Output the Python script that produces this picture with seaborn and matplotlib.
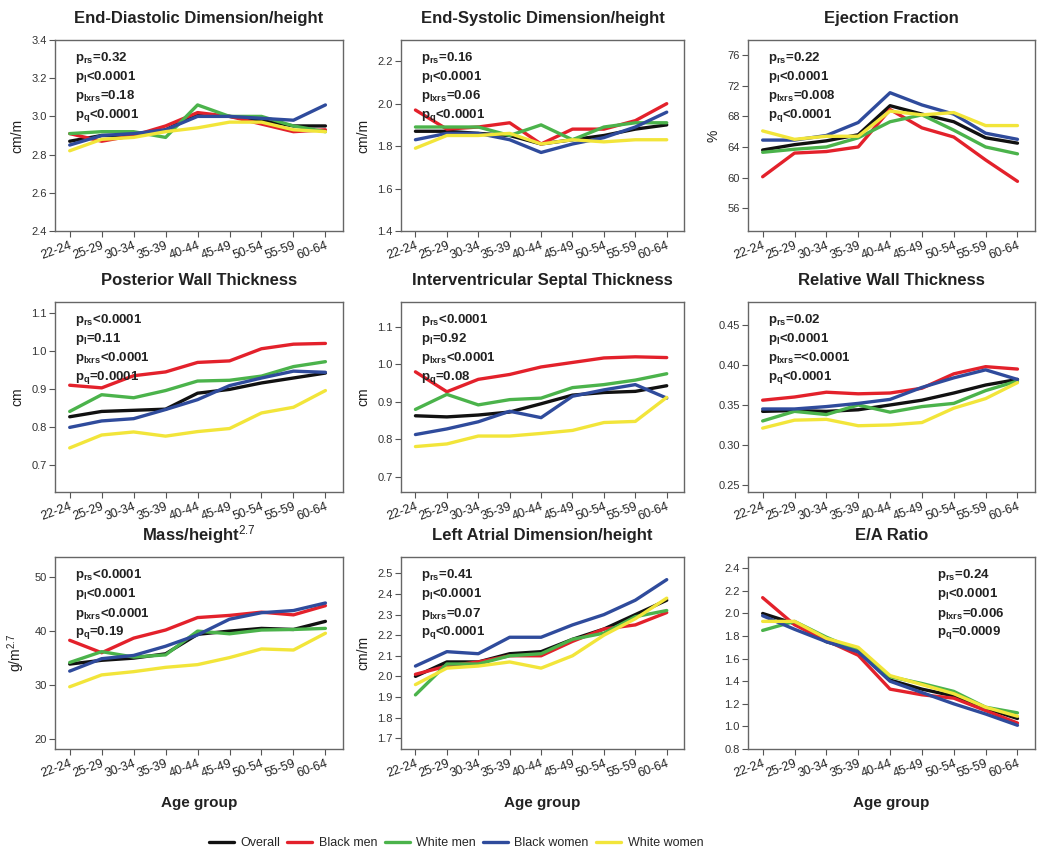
import numpy as np
import pandas as pd
import matplotlib
matplotlib.use("Agg")
import matplotlib.pyplot as plt
import seaborn as sns
from matplotlib.lines import Line2D

# Age categories and groups
age_groups = ["22-24", "25-29", "30-34", "35-39", "40-44", "45-49", "50-54", "55-59", "60-64"]
groups = ["Overall", "Black men", "White men", "Black women", "White women"]
palette = {
    "Overall": "#111111",
    "Black men": "#e3212b",
    "White men": "#4bb34b",
    "Black women": "#2f4b9c",
    "White women": "#f2e53a",
}

# End-diastolic dimension / height (cm/m)
edd = {
    "Overall":     [2.87, 2.90, 2.90, 2.93, 3.01, 3.00, 2.98, 2.95, 2.95],
    "Black men":   [2.91, 2.87, 2.90, 2.95, 3.02, 3.00, 2.96, 2.92, 2.93],
    "White men":   [2.91, 2.92, 2.92, 2.89, 3.06, 3.00, 3.00, 2.95, 2.92],
    "Black women": [2.85, 2.90, 2.91, 2.93, 3.00, 3.00, 2.99, 2.98, 3.06],
    "White women": [2.82, 2.88, 2.89, 2.92, 2.94, 2.97, 2.97, 2.93, 2.92],
}
# End-systolic dimension / height (cm/m)
esd = {
    "Overall":     [1.87, 1.87, 1.86, 1.85, 1.81, 1.83, 1.85, 1.88, 1.90],
    "Black men":   [1.97, 1.88, 1.89, 1.91, 1.81, 1.88, 1.88, 1.92, 2.00],
    "White men":   [1.89, 1.89, 1.89, 1.85, 1.90, 1.83, 1.89, 1.91, 1.91],
    "Black women": [1.83, 1.86, 1.86, 1.83, 1.77, 1.81, 1.84, 1.89, 1.96],
    "White women": [1.79, 1.85, 1.85, 1.86, 1.81, 1.83, 1.82, 1.83, 1.83],
}
# Ejection fraction (%)
ef = {
    "Overall":     [63.6, 64.3, 64.8, 65.6, 69.4, 68.3, 67.3, 65.2, 64.5],
    "Black men":   [60.1, 63.2, 63.4, 64.0, 68.9, 66.5, 65.3, 62.3, 59.5],
    "White men":   [63.3, 63.7, 64.0, 65.2, 67.3, 68.2, 66.2, 64.0, 63.1],
    "Black women": [64.9, 64.9, 65.5, 67.2, 71.1, 69.5, 68.3, 65.8, 65.0],
    "White women": [66.1, 65.0, 65.4, 65.4, 68.7, 68.2, 68.5, 66.8, 66.8],
}
# Posterior wall thickness (cm)
pwt = {
    "Overall":     [0.828, 0.842, 0.845, 0.848, 0.890, 0.900, 0.917, 0.930, 0.943],
    "Black men":   [0.911, 0.904, 0.936, 0.946, 0.971, 0.975, 1.007, 1.019, 1.021],
    "White men":   [0.842, 0.886, 0.878, 0.897, 0.922, 0.924, 0.935, 0.960, 0.973],
    "Black women": [0.800, 0.817, 0.823, 0.847, 0.873, 0.910, 0.930, 0.948, 0.945],
    "White women": [0.746, 0.780, 0.788, 0.777, 0.789, 0.797, 0.838, 0.853, 0.897],
}
# Interventricular septal thickness (cm)
ivs = {
    "Overall":     [0.863, 0.860, 0.865, 0.873, 0.895, 0.918, 0.925, 0.928, 0.943],
    "Black men":   [0.980, 0.927, 0.960, 0.973, 0.993, 1.005, 1.017, 1.020, 1.018],
    "White men":   [0.880, 0.920, 0.892, 0.906, 0.910, 0.938, 0.946, 0.958, 0.975],
    "Black women": [0.813, 0.828, 0.847, 0.875, 0.858, 0.915, 0.932, 0.946, 0.910],
    "White women": [0.781, 0.788, 0.809, 0.809, 0.816, 0.824, 0.845, 0.848, 0.912],
}
# Relative wall thickness
rwt = {
    "Overall":     [0.342, 0.343, 0.342, 0.344, 0.350, 0.356, 0.365, 0.375, 0.382],
    "Black men":   [0.356, 0.360, 0.366, 0.364, 0.365, 0.371, 0.389, 0.398, 0.395],
    "White men":   [0.330, 0.342, 0.338, 0.350, 0.341, 0.348, 0.352, 0.368, 0.380],
    "Black women": [0.345, 0.345, 0.348, 0.352, 0.357, 0.372, 0.384, 0.394, 0.382],
    "White women": [0.321, 0.331, 0.332, 0.324, 0.325, 0.328, 0.346, 0.358, 0.378],
}
# LV mass / height^2.7 (g/m^2.7)
mass = {
    "Overall":     [33.9, 34.6, 35.0, 35.8, 39.4, 40.0, 40.5, 40.3, 41.8],
    "Black men":   [38.3, 36.0, 38.7, 40.2, 42.5, 42.9, 43.5, 43.0, 44.7],
    "White men":   [34.2, 36.2, 35.2, 35.6, 40.0, 39.5, 40.2, 40.3, 40.5],
    "Black women": [32.6, 34.9, 35.5, 37.2, 39.3, 42.2, 43.4, 43.8, 45.2],
    "White women": [29.7, 31.9, 32.5, 33.3, 33.8, 35.1, 36.7, 36.5, 39.6],
}
# Left atrial dimension / height (cm/m)
lad = {
    "Overall":     [2.00, 2.07, 2.07, 2.11, 2.12, 2.18, 2.23, 2.30, 2.37],
    "Black men":   [2.01, 2.05, 2.07, 2.10, 2.10, 2.17, 2.23, 2.25, 2.31],
    "White men":   [1.91, 2.06, 2.06, 2.10, 2.11, 2.18, 2.21, 2.29, 2.32],
    "Black women": [2.05, 2.12, 2.11, 2.19, 2.19, 2.25, 2.30, 2.37, 2.47],
    "White women": [1.96, 2.04, 2.05, 2.07, 2.04, 2.10, 2.20, 2.28, 2.38],
}
# E/A ratio
ea = {
    "Overall":     [2.00, 1.91, 1.75, 1.67, 1.41, 1.33, 1.27, 1.16, 1.07],
    "Black men":   [2.14, 1.90, 1.76, 1.63, 1.33, 1.28, 1.25, 1.14, 1.03],
    "White men":   [1.85, 1.93, 1.79, 1.67, 1.44, 1.38, 1.31, 1.17, 1.12],
    "Black women": [1.98, 1.86, 1.75, 1.66, 1.40, 1.30, 1.20, 1.11, 1.01],
    "White women": [1.93, 1.93, 1.78, 1.70, 1.45, 1.37, 1.29, 1.17, 1.09],
}

p_edd = [("rs", "=0.32"), ("l", "<0.0001"), ("lxrs", "=0.18"), ("q", "<0.0001")]
p_esd = [("rs", "=0.16"), ("l", "<0.0001"), ("lxrs", "=0.06"), ("q", "<0.0001")]
p_ef = [("rs", "=0.22"), ("l", "<0.0001"), ("lxrs", "=0.008"), ("q", "<0.0001")]
p_pwt = [("rs", "<0.0001"), ("l", "=0.11"), ("lxrs", "<0.0001"), ("q", "=0.0001")]
p_ivs = [("rs", "<0.0001"), ("l", "=0.92"), ("lxrs", "<0.0001"), ("q", "=0.08")]
p_rwt = [("rs", "=0.02"), ("l", "<0.0001"), ("lxrs", "=<0.0001"), ("q", "<0.0001")]
p_mass = [("rs", "<0.0001"), ("l", "<0.0001"), ("lxrs", "<0.0001"), ("q", "=0.19")]
p_lad = [("rs", "=0.41"), ("l", "<0.0001"), ("lxrs", "=0.07"), ("q", "<0.0001")]
p_ea = [("rs", "=0.24"), ("l", "<0.0001"), ("lxrs", "=0.006"), ("q", "=0.0009")]

panels = [
    ("End-Diastolic Dimension/height", "cm/m", edd, (2.4, 3.4), np.arange(2.4, 3.41, 0.2), "{:.1f}", p_edd, 0.07),
    ("End-Systolic Dimension/height", "cm/m", esd, (1.4, 2.3), np.arange(1.4, 2.21, 0.2), "{:.1f}", p_esd, 0.07),
    ("Ejection Fraction", "%", ef, (53, 78), np.arange(56, 77, 4), "{:.0f}", p_ef, 0.07),
    ("Posterior Wall Thickness", "cm", pwt, (0.63, 1.13), np.arange(0.7, 1.11, 0.1), "{:.1f}", p_pwt, 0.07),
    ("Interventricular Septal Thickness", "cm", ivs, (0.66, 1.166), np.arange(0.7, 1.11, 0.1), "{:.1f}", p_ivs, 0.07),
    ("Relative Wall Thickness", "", rwt, (0.241, 0.479), np.arange(0.25, 0.451, 0.05), "{:.2f}", p_rwt, 0.07),
    ("Mass/height$^{2.7}$", "g/m$^{2.7}$", mass, (18.2, 53.7), np.arange(20, 51, 10), "{:.0f}", p_mass, 0.07),
    ("Left Atrial Dimension/height", "cm/m", lad, (1.647, 2.58), np.arange(1.7, 2.51, 0.1), "{:.1f}", p_lad, 0.07),
    ("E/A Ratio", "", ea, (0.8, 2.5), np.arange(0.8, 2.41, 0.2), "{:.1f}", p_ea, 0.66),
]

sns.set_theme(style="white")
plt.rcParams["font.family"] = ["Liberation Sans", "DejaVu Sans"]
plt.rcParams["mathtext.fontset"] = "custom"
plt.rcParams["mathtext.rm"] = "Liberation Sans"
plt.rcParams["mathtext.bf"] = "Liberation Sans:bold"
plt.rcParams["mathtext.it"] = "Liberation Sans:italic"

fig = plt.figure(figsize=(10.5, 8.66), dpi=100)
W, H = 1050, 866
col_left = [55, 401, 748]
col_width = [288, 283, 287]
row_top = [40, 302, 557]
row_height = [191, 190, 192]

x_pos = np.arange(len(age_groups))

for i, (title, ylab, data, ylim, yticks, yfmt, ptext, tx) in enumerate(panels):
    r, c = divmod(i, 3)
    ax = fig.add_axes([col_left[c] / W, 1 - (row_top[r] + row_height[r]) / H,
                       col_width[c] / W, row_height[r] / H])
    df = pd.DataFrame([
        {"pos": x_pos[k], "age": age_groups[k], "group": g, "value": data[g][k]}
        for g in groups for k in range(len(age_groups))
    ])
    sns.lineplot(data=df, x="pos", y="value", hue="group", hue_order=groups,
                 palette=palette, linewidth=2.4, legend=False, sort=False, ax=ax)
    ax.set_xlim(-0.46, 8.55)
    ax.set_ylim(*ylim)
    ax.set_yticks(yticks)
    ax.set_yticklabels([yfmt.format(v) for v in yticks], fontsize=8, color="#333333")
    ax.set_xticks(x_pos)
    ax.set_xticklabels(age_groups, rotation=20, ha="right", rotation_mode="anchor",
                       fontsize=9, color="#222222")
    ax.tick_params(axis="both", direction="out", length=4, width=0.8, color="#555555",
                   bottom=True, left=True, pad=2)
    for sp in ax.spines.values():
        sp.set_color("#666666")
        sp.set_linewidth(1.0)
    ax.set_title(title, fontsize=12, fontweight="bold", pad=12, color="#222222")
    ax.set_ylabel(ylab, fontsize=10, color="#222222", labelpad=5)
    if r == 2:
        ax.set_xlabel("Age group", fontsize=11, fontweight="bold", labelpad=12, color="#222222")
    else:
        ax.set_xlabel("")
    for j, (sub, val) in enumerate(ptext):
        ax.text(tx, 0.905 - j * 0.1, "p$_{\\mathbf{" + sub + "}}$" + val,
                transform=ax.transAxes, fontsize=9.5, fontweight="bold",
                color="#222222", va="center", ha="left")

handles = [Line2D([0], [0], color=palette[g], linewidth=2.4) for g in groups]
fig.legend(handles, groups, loc="center", bbox_to_anchor=(456 / W, 1 - 843 / H), ncol=5,
           frameon=False, handlelength=2.0, columnspacing=0.6, handletextpad=0.5,
           fontsize=9)

fig.savefig("out.png", dpi=100, facecolor="white")
